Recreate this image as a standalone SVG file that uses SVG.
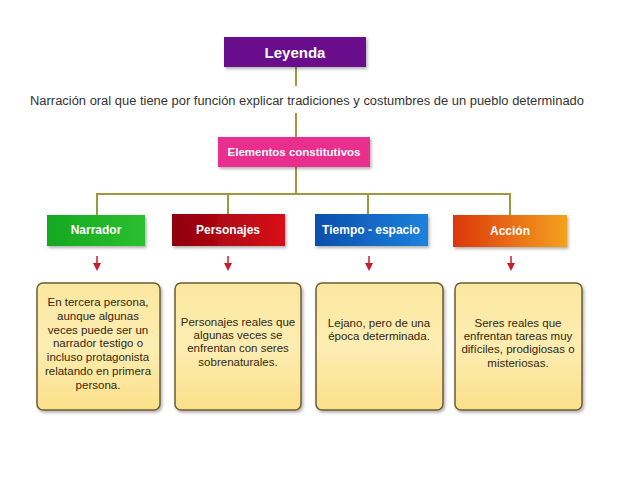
<svg xmlns="http://www.w3.org/2000/svg" width="640" height="480" viewBox="0 0 640 480">
<defs>
<linearGradient id="gRed" x1="0" y1="0" x2="1" y2="0"><stop offset="0" stop-color="#8e000c"/><stop offset="1" stop-color="#d8101a"/></linearGradient>
<linearGradient id="gBlue" x1="0" y1="0" x2="1" y2="0"><stop offset="0" stop-color="#0b4faa"/><stop offset="1" stop-color="#1c82de"/></linearGradient>
<linearGradient id="gOrange" x1="0" y1="0" x2="1" y2="0"><stop offset="0" stop-color="#dc360c"/><stop offset="1" stop-color="#f5a21e"/></linearGradient>
<linearGradient id="gGreen" x1="0" y1="0" x2="1" y2="0"><stop offset="0" stop-color="#14a820"/><stop offset="1" stop-color="#2cc030"/></linearGradient>
<linearGradient id="gYellow" x1="0" y1="0" x2="0" y2="1"><stop offset="0" stop-color="#fbe7a0"/><stop offset="0.5" stop-color="#fdedb2"/><stop offset="1" stop-color="#fbe08a"/></linearGradient>
<filter id="sh" x="-10%" y="-10%" width="130%" height="130%"><feDropShadow dx="1.5" dy="2" stdDeviation="1.5" flood-color="#000" flood-opacity="0.3"/></filter>
<marker id="arr" markerWidth="8" markerHeight="8" refX="4" refY="4" orient="auto" markerUnits="userSpaceOnUse"><path d="M0,0 L8,4 L0,8 z" fill="#c81e2a"/></marker>
</defs>
<style>
.conn{stroke:#9c9a3c;stroke-width:2;fill:none}
.arrow{stroke:#c81e2a;stroke-width:1.5;fill:none}
.head{font-family:"Liberation Sans",Arial,sans-serif;font-weight:bold;fill:#fff;text-anchor:middle}
.desc{font-family:"Liberation Sans",Arial,sans-serif;font-size:11.5px;fill:#33280f;text-anchor:middle}
.box{stroke:#6e5c32;stroke-width:1.5;fill:url(#gYellow)}
</style>
<rect width="640" height="480" fill="#fff"/>
<g id="connectors">
<line class="conn" x1="296" y1="67" x2="296" y2="86"/>
<line class="conn" x1="296" y1="113" x2="296" y2="137"/>
<line class="conn" x1="296" y1="167" x2="296" y2="194"/>
<polyline class="conn" points="97,215 97,194 510,194 510,215"/>
<line class="conn" x1="228" y1="194" x2="228" y2="214"/>
<line class="conn" x1="368" y1="194" x2="368" y2="214"/>
<line class="arrow" x1="97" y1="256" x2="97" y2="267" marker-end="url(#arr)"/>
<line class="arrow" x1="228" y1="256" x2="228" y2="267" marker-end="url(#arr)"/>
<line class="arrow" x1="369" y1="256" x2="369" y2="267" marker-end="url(#arr)"/>
<line class="arrow" x1="511" y1="256" x2="511" y2="267" marker-end="url(#arr)"/>
</g>
<g id="leyenda">
<rect x="224" y="37" width="142" height="30" fill="#6a0c8c" filter="url(#sh)"/>
<text class="head" x="295" y="58" font-size="15">Leyenda</text>
</g>
<g id="definicion">
<text x="307" y="105" font-family="Liberation Sans,Arial,sans-serif" font-size="12" fill="#333" text-anchor="middle" textLength="554" lengthAdjust="spacingAndGlyphs">Narración oral que tiene por función explicar tradiciones y costumbres de un pueblo determinado</text>
</g>
<g id="elementos">
<rect x="218" y="137" width="152" height="30" fill="#ea2f8e" filter="url(#sh)"/>
<text class="head" x="294" y="156" font-size="11.5">Elementos constitutivos</text>
</g>
<g id="narrador">
<rect x="47" y="215" width="98" height="31" fill="url(#gGreen)" filter="url(#sh)"/>
<text class="head" x="96" y="234" font-size="12">Narrador</text>
</g>
<g id="personajes">
<rect x="172" y="214" width="113" height="32" fill="url(#gRed)" filter="url(#sh)"/>
<text class="head" x="228" y="234" font-size="12">Personajes</text>
</g>
<g id="tiempo">
<rect x="315" y="214" width="113" height="32" fill="url(#gBlue)" filter="url(#sh)"/>
<text class="head" x="371" y="234" font-size="12">Tiempo - espacio</text>
</g>
<g id="accion">
<rect x="453" y="215" width="114" height="32" fill="url(#gOrange)" filter="url(#sh)"/>
<text class="head" x="510" y="235" font-size="12">Acción</text>
</g>
<g id="desc-narrador">
<rect class="box" x="37" y="283" width="123" height="127" rx="6" filter="url(#sh)"/>
<text class="desc" x="98" y="306">En tercera persona,</text>
<text class="desc" x="98" y="320">aunque algunas</text>
<text class="desc" x="98" y="334">veces puede ser un</text>
<text class="desc" x="98" y="347">narrador testigo o</text>
<text class="desc" x="98" y="361">incluso protagonista</text>
<text class="desc" x="98" y="375">relatando en primera</text>
<text class="desc" x="98" y="389">persona.</text>
</g>
<g id="desc-personajes">
<rect class="box" x="175" y="283" width="126" height="127" rx="6" filter="url(#sh)"/>
<text class="desc" x="238" y="326">Personajes reales que</text>
<text class="desc" x="238" y="339">algunas veces se</text>
<text class="desc" x="238" y="352">enfrentan con seres</text>
<text class="desc" x="238" y="366">sobrenaturales.</text>
</g>
<g id="desc-tiempo">
<rect class="box" x="316" y="283" width="127" height="127" rx="6" filter="url(#sh)"/>
<text class="desc" x="379" y="327">Lejano, pero de una</text>
<text class="desc" x="379" y="340">época determinada.</text>
</g>
<g id="desc-accion">
<rect class="box" x="455" y="283" width="127" height="127" rx="6" filter="url(#sh)"/>
<text class="desc" x="518" y="327">Seres reales que</text>
<text class="desc" x="518" y="340">enfrentan tareas muy</text>
<text class="desc" x="518" y="353">difíciles, prodigiosas o</text>
<text class="desc" x="518" y="367">misteriosas.</text>
</g>
</svg>
